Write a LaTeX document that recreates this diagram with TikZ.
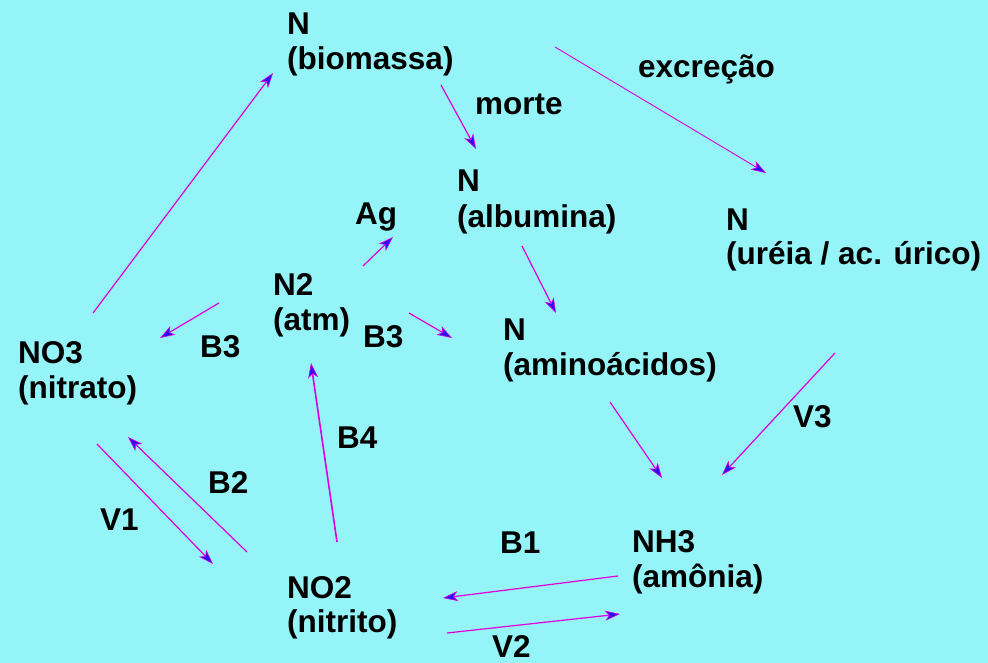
\documentclass[tikz,border=0pt]{standalone}
\usepackage{fontspec}
\setmainfont{Liberation Sans}
\usetikzlibrary{arrows.meta}
\definecolor{sky}{HTML}{94F4F8}
\definecolor{flux}{HTML}{E000DC}
\definecolor{tipfill}{HTML}{2A10F0}
\tikzset{
  txt/.style={anchor=base west, inner sep=0pt, font=\fontsize{31.5}{36}\selectfont\bfseries},
  flow/.style={draw=flux, line width=1.2pt,
    -{Stealth[length=15pt,width=10pt,inset=4pt,fill=tipfill,color=flux,line width=0.6pt]}},
}
\begin{document}
\begin{tikzpicture}[x=1pt,y=-1pt]
  \fill[sky] (0,0) rectangle (988,663);
  \useasboundingbox (0,0) rectangle (988,663);

  % compartments of the nitrogen cycle
  \node[txt] (bioA) at (287,35) {N};
  \node[txt] (bio)  at (287,70) {(biomassa)};
  \node[txt] (albA) at (457,192) {N};
  \node[txt] (alb)  at (457,228) {(albumina)};
  \node[txt] (ureA) at (726,230) {N};
  \node[txt] (ure)  at (726,265) {(uréia / ac. úrico)};
  \node[txt] (atmA) at (273,295) {N2};
  \node[txt] (atm)  at (273,330) {(atm)};
  \node[txt] (amiA) at (503,340) {N};
  \node[txt] (ami)  at (503,375) {(aminoácidos)};
  \node[txt] (nitA) at (18,363) {NO3};
  \node[txt] (nit)  at (18,398) {(nitrato)};
  \node[txt] (noA)  at (287,598) {NO2};
  \node[txt] (no)   at (287,632) {(nitrito)};
  \node[txt] (amoA) at (632,552) {NH3};
  \node[txt] (amo)  at (632,587) {(amônia)};
  \node[txt] (ag)   at (355,225) {Ag};

  % process labels
  \node[txt] (lexc) at (638,78)  {excreção};
  \node[txt] (lmor) at (475,115) {morte};
  \node[txt] (lb3a) at (200,357) {B3};
  \node[txt] (lb3b) at (363,347) {B3};
  \node[txt] (lb4)  at (337,448) {B4};
  \node[txt] (lb2)  at (208,493) {B2};
  \node[txt] (lv1)  at (100,530) {V1};
  \node[txt] (lb1)  at (500,553) {B1};
  \node[txt] (lv2)  at (492,657) {V2};
  \node[txt] (lv3)  at (793,427) {V3};

  % free ends of the transfers
  \coordinate (nitUp)   at (93,313);
  \coordinate (bioIn)   at (273,73);
  \coordinate (bioDn)   at (441,85);
  \coordinate (albIn)   at (476,149);
  \coordinate (bioRt)   at (555,47);
  \coordinate (ureIn)   at (766,173);
  \coordinate (atmUp)   at (363,266);
  \coordinate (agIn)    at (393,237);
  \coordinate (atmLt)   at (219,303);
  \coordinate (nitIn)   at (160,338);
  \coordinate (atmRt)   at (409,313);
  \coordinate (amiIn)   at (452,338);
  \coordinate (albDn)   at (522,246);
  \coordinate (amiIn2)  at (556,313);
  \coordinate (amiDn)   at (610,402);
  \coordinate (amoIn)   at (662,478);
  \coordinate (ureDn)   at (835,353);
  \coordinate (amoIn2)  at (722,475);
  \coordinate (amoLt)   at (618,576);
  \coordinate (noIn)    at (443,598);
  \coordinate (noRt)    at (447,633);
  \coordinate (amoIn3)  at (620,614);
  \coordinate (nitDn)   at (97,444);
  \coordinate (noIn2)   at (213,564);
  \coordinate (noUpL)   at (247,552);
  \coordinate (nitIn2)  at (128,437);
  \coordinate (noUp)    at (337,542);
  \coordinate (atmIn)   at (311,363);

  % transfers
  \draw[flow] (nitUp) -- (bioIn);
  \draw[flow] (bioDn) -- (albIn);
  \draw[flow, line width=0.9pt] (bioRt) -- (ureIn);
  \draw[flow] (atmUp) -- (agIn);
  \draw[flow] (atmLt) -- (nitIn);
  \draw[flow] (atmRt) -- (amiIn);
  \draw[flow] (albDn) -- (amiIn2);
  \draw[flow] (amiDn) -- (amoIn);
  \draw[flow] (ureDn) -- (amoIn2);
  \draw[flow] (amoLt) -- (noIn);
  \draw[flow] (noRt) -- (amoIn3);
  \draw[flow] (nitDn) -- (noIn2);
  \draw[flow] (noUpL) -- (nitIn2);
  \draw[flow, line width=1.6pt] (noUp) -- (atmIn);
\end{tikzpicture}
\end{document}
